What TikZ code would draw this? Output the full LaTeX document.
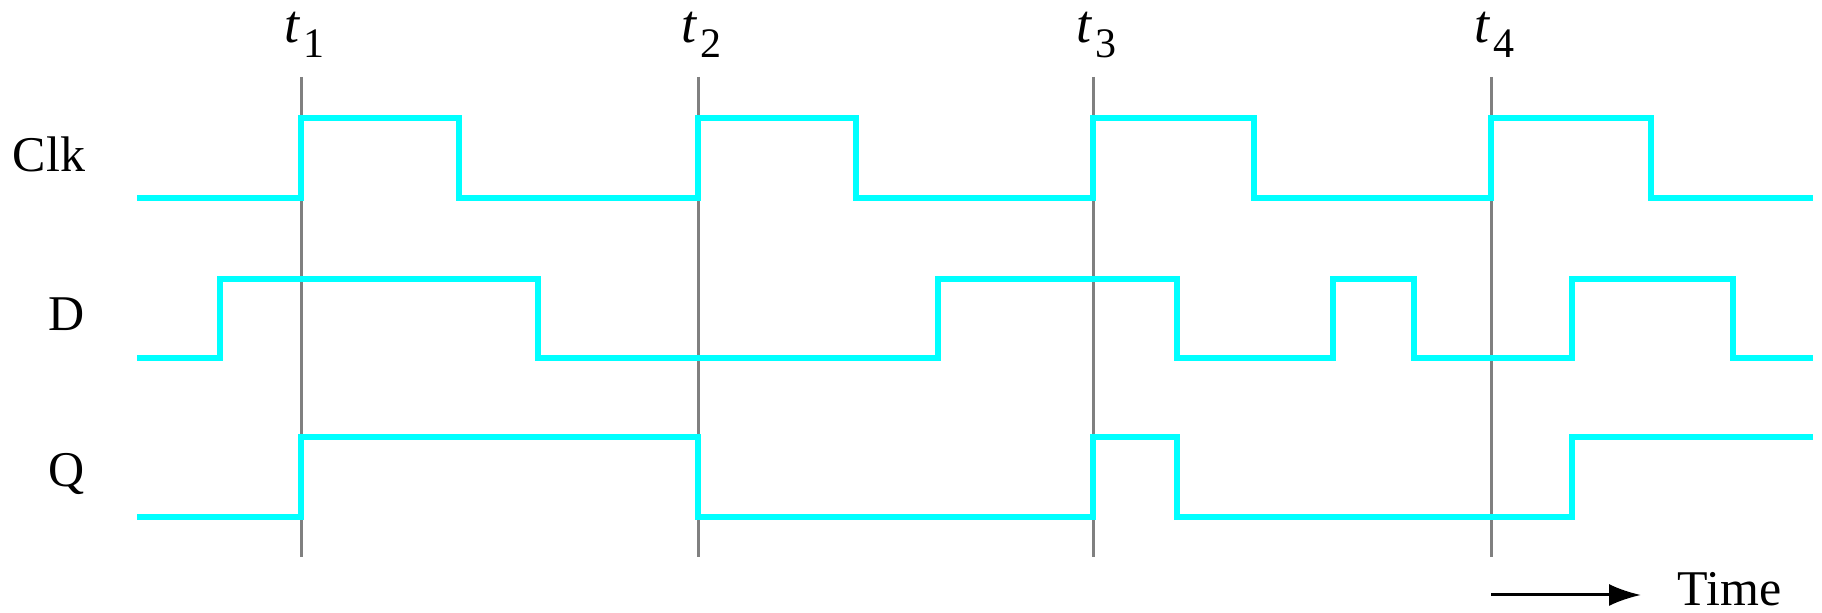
\documentclass[tikz,border=0pt]{standalone}
\usepackage{fontspec}
\setmainfont{Liberation Serif}
\usetikzlibrary{arrows.meta}
\definecolor{sigcyan}{rgb}{0,1,1}
\definecolor{markgray}{rgb}{0.5,0.5,0.5}
\tikzstyle{signal} = [line width=3pt, draw=sigcyan, line join=miter]
\tikzstyle{marker} = [line width=1.5pt, draw=markgray]

\begin{document}
\begin{tikzpicture}[x=0.5pt, y=-0.5pt, lbl/.style={font=\fontsize{25}{30}\selectfont, inner sep=0pt}]
    \useasboundingbox (0,0) rectangle (1822,613);
    % time markers
    \foreach \x/\i in {301/1, 698/2, 1093/3, 1491/4} {
        \draw[marker] (\x,77) -- (\x,557);
        \node[lbl, anchor=base west] (t\i) at (\x-17,43) {\fontsize{27}{30}\selectfont\textit{t}\kern1.5pt\raisebox{-7.5pt}{\fontsize{21}{24}\selectfont\i}};
    }
    % signal names
    \node[lbl, anchor=base] (clk) at (49,172) {Clk};
    \node[lbl, anchor=base] (d) at (67,331) {D};
    \node[lbl, anchor=base] (q) at (67,487) {Q};
    % waveforms
    \draw[signal] (137,198) -| (301,118) -| (459,198) -| (698,118) -| (856,198) -| (1093,118) -| (1254,198) -| (1491,118) -| (1651,198) -- (1813,198);
    \draw[signal] (137,358) -| (220,279) -| (538,358) -| (938,279) -| (1177,358) -| (1333,279) -| (1414,358) -| (1572,279) -| (1733,358) -- (1813,358);
    \draw[signal] (137,517) -| (301,437) -| (698,517) -| (1093,437) -| (1177,517) -| (1572,437) -- (1813,437);
    % time axis
    \coordinate (tstart) at (1491,595);
    \node[lbl, anchor=base west] (time) at (1677,606) {Time};
    \draw[line width=1.5pt, -{Latex[length=16pt, width=11pt]}, shorten >=18pt] (tstart) -- (tstart -| time.west);
\end{tikzpicture}
\end{document}
